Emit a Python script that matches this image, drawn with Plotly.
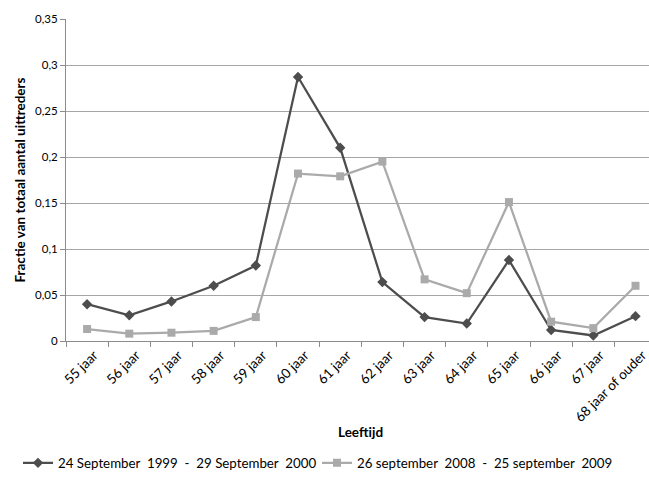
import plotly.graph_objects as go

# Age categories on the x axis
leeftijden = ["55 jaar", "56 jaar", "57 jaar", "58 jaar", "59 jaar", "60 jaar",
              "61 jaar", "62 jaar", "63 jaar", "64 jaar", "65 jaar", "66 jaar",
              "67 jaar", "68 jaar of ouder"]

# Fraction of all retirees per age, two reference periods
periode_1999 = [0.040, 0.028, 0.043, 0.060, 0.082, 0.287, 0.210,
                0.064, 0.026, 0.019, 0.088, 0.012, 0.006, 0.027]
periode_2008 = [0.013, 0.008, 0.009, 0.011, 0.026, 0.182, 0.179,
                0.195, 0.067, 0.052, 0.151, 0.021, 0.014, 0.060]

NB = "\u00a0"
naam_1999 = f"24 September{NB} 1999{NB} -{NB} 29 September{NB} 2000"
naam_2008 = f"26 september{NB} 2008{NB} -{NB} 25 september{NB} 2009"

y_ticks = [0, 0.05, 0.1, 0.15, 0.2, 0.25, 0.3, 0.35]

FONT = "Lato, Open Sans, sans-serif"
DARK = "#4d4d4d"
LIGHT = "#aaaaaa"

fig = go.Figure()
fig.add_trace(go.Scatter(
    x=leeftijden, y=periode_1999, name=naam_1999, mode="lines+markers",
    line=dict(color=DARK, width=2.25),
    marker=dict(symbol="diamond", size=8, color=DARK),
    legend="legend",
))
fig.add_trace(go.Scatter(
    x=leeftijden, y=periode_2008, name=naam_2008, mode="lines+markers",
    line=dict(color=LIGHT, width=2.25),
    marker=dict(symbol="square", size=8, color=LIGHT),
    legend="legend2",
))

legend_style = dict(orientation="h", xref="container", xanchor="left",
                    yref="container", y=0.043, yanchor="middle",
                    font=dict(size=13.3), bgcolor="rgba(0,0,0,0)")

fig.update_layout(
    width=649, height=484,
    margin=dict(l=66, r=0, t=19, b=143),
    paper_bgcolor="white", plot_bgcolor="white",
    separators=",.",
    font=dict(family=FONT, size=11, color="#000000"),
    showlegend=True,
    legend=dict(x=18 / 649, **legend_style),
    legend2=dict(x=317 / 649, **legend_style),
    xaxis=dict(
        type="category", range=[-0.5, 13.32],
        showgrid=False, showline=True, linecolor="#8c8c8c", linewidth=1,
        ticks="outside", ticklen=5, tickcolor="#8c8c8c", tickson="boundaries",
        tickangle=-45, tickfont=dict(size=13.5), ticklabelshift=7,
        zeroline=False,
    ),
    yaxis=dict(
        range=[0, 0.35], tickvals=y_ticks,
        showgrid=True, gridcolor="#a6a6a6", gridwidth=1,
        showline=True, linecolor="#8c8c8c", linewidth=1,
        ticks="outside", ticklen=5, tickcolor="#8c8c8c",
        tickfont=dict(size=11.5), zeroline=False,
        title=dict(text="<b>Fractie van totaal aantal uittreders</b>",
                   font=dict(size=13.5), standoff=6),
    ),
    annotations=[dict(
        text="<b>Leeftijd</b>", xref="paper", yref="paper",
        x=0.505, y=-0.283, xanchor="center", yanchor="middle",
        showarrow=False, font=dict(size=13.5),
    )],
)

fig.write_html("out.html")
